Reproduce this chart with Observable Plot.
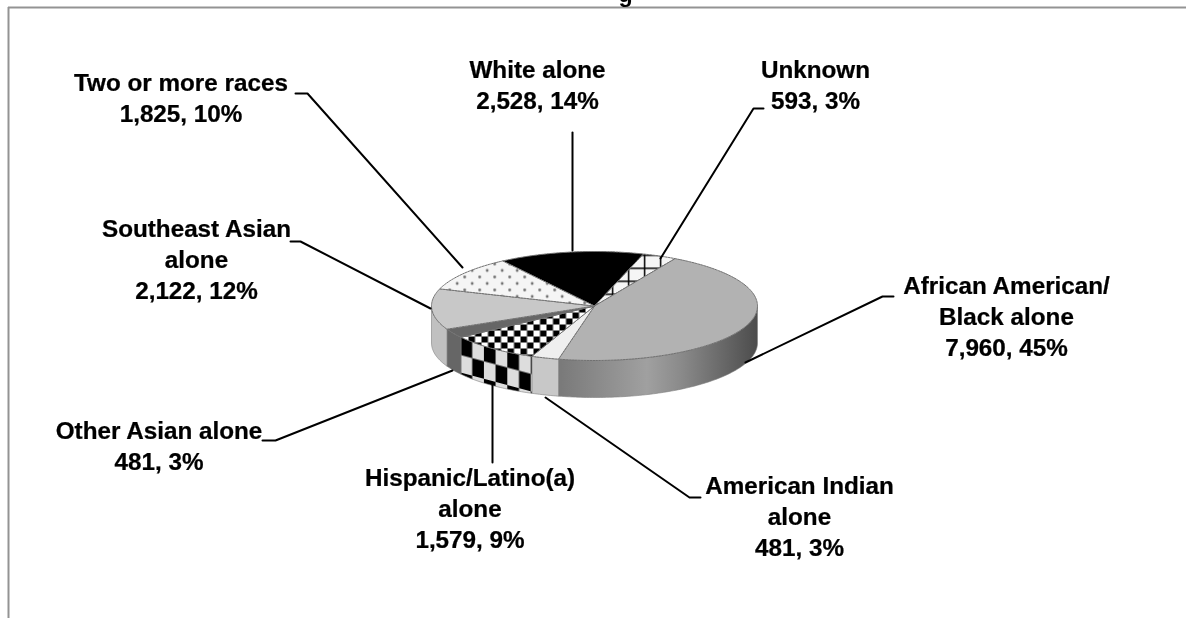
<!DOCTYPE html>
<html><head><meta charset="utf-8">
<style>html,body{margin:0;padding:0;background:#fff;overflow:hidden}svg{display:block;background:#fff;filter:blur(0.4px)}</style>
<script src="https://cdn.jsdelivr.net/npm/d3@7"></script>
<script src="https://cdn.jsdelivr.net/npm/@observablehq/plot@0.6"></script>
</head><body><div id="c"></div>
<script>
// DATA (clockwise, starting from the top-left edge of the "White alone" slice)
const categories = ["White alone","Unknown","African American/\nBlack alone","American Indian\nalone","Hispanic/Latino(a)\nalone","Other Asian alone","Southeast Asian\nalone","Two or more races"];
const counts = [2528,593,7960,481,1579,481,2122,1825];
const shares = ["14%","3%","45%","3%","9%","3%","12%","10%"];
const titleFragment = ["g"];

// LAYOUT
const W=1186,H=618;
const cx=594,cy=305.5,rx=163,ry=54.5,depth=37,startDeg=-34.3;
const topFill=["#000","url(#cross)","#b2b2b2","#efefef","url(#check)","#666","#c8c8c8","url(#dots)"];
const sideFill=["#000","#fff","url(#grad)","#c8c8c8","url(#bigcheck)","#666","#c0c0c0","#ddd"];
const labelAt=[[537,83],[815,83],[1006,314.5],[799,515],[469.5,506.5],[158.5,444.5],[196,257.5],[180.5,96]];
const leaders=[
 [[572,132],[572,250]],
 [[763,108],[753,108],[660,258]],
 [[893,296],[882,296],[745,362]],
 [[700,497],[689,497],[545,397]],
 [[492,462],[492,385]],
 [[262,440],[275,440],[452,370]],
 [[290,241],[300,241],[430,308]],
 [[295,93],[307,93],[462,267]]
];

const total=d3.sum(counts);
let acc=startDeg;
const slices=counts.map((v,i)=>{const a0=acc;acc+=v/total*360;return {i,a0,a1:acc};});
const pt=(deg,dy=0)=>{const r=deg*Math.PI/180;return {x:cx+rx*Math.sin(r),y:cy-ry*Math.cos(r)+dy};};
const arc=(a0,a1,dy=0)=>{const n=Math.max(2,Math.ceil(Math.abs(a1-a0)));return d3.range(n+1).map(k=>pt(a0+(a1-a0)*k/n,dy));};

const marks=[
 Plot.ruleY([7],{x1:8,x2:W,stroke:"#939393",strokeWidth:2}),
 Plot.ruleX([8],{y1:7,y2:H,stroke:"#939393",strokeWidth:2}),
 Plot.text(titleFragment,{x:()=>625,y:()=>-6,text:d=>d,fontSize:22,fontWeight:"bold",fontFamily:"Liberation Sans",fill:"#000",textAnchor:"middle",lineAnchor:"middle"})
];
// walls
slices.forEach(s=>{
 const a=Math.max(s.a0,90),b=Math.min(s.a1,270);
 if(b<=a)return;
 const poly=[...arc(a,b),...arc(b,a,depth)];poly.push(poly[0]);
 marks.push(Plot.line(poly,{x:"x",y:"y",fill:sideFill[s.i],stroke:"#808080",strokeWidth:0.6,curve:"linear"}));
});
// top faces
slices.forEach(s=>{
 const poly=[{x:cx,y:cy},...arc(s.a0,s.a1),{x:cx,y:cy}];
 marks.push(Plot.line(poly,{x:"x",y:"y",fill:topFill[s.i],stroke:"#707070",strokeWidth:1,strokeDasharray:"2,1",curve:"linear"}));
});
// leaders
leaders.forEach(l=>marks.push(Plot.line(l.map(p=>({x:p[0],y:p[1]})),{x:"x",y:"y",stroke:"#000",strokeWidth:2,curve:"linear"})));
// labels
const fmt=d3.format(",");
const labels=categories.map((c,i)=>({t:`${c}\n${fmt(counts[i])}, ${shares[i]}`,x:labelAt[i][0],y:labelAt[i][1]}));
marks.push(Plot.text(labels,{x:"x",y:"y",text:"t",fontSize:23,fontWeight:"bold",fontFamily:"Liberation Sans",fill:"#000",stroke:"#000",strokeWidth:0.25,lineHeight:1.35,textAnchor:"middle",lineAnchor:"middle"}));

const chart=Plot.plot({width:W,height:H,margin:0,
 x:{domain:[0,W],range:[0,W],axis:null},
 y:{domain:[0,H],range:[0,H],axis:null},
 style:{background:"#fff"},marks});
document.getElementById("c").append(chart);
// the reference's labels are horizontally stretched
d3.select(chart).selectAll("g[aria-label='text'] text").each(function(){
 const t=this.getAttribute("transform")||"";
 this.setAttribute("transform",t+" scale(1.055,1)");
});

const defs=d3.select(chart).insert("defs",":first-child");
const grad=defs.append("linearGradient").attr("id","grad").attr("gradientUnits","userSpaceOnUse")
 .attr("x1",556).attr("x2",757).attr("y1",0).attr("y2",0);
[[0,"#787878"],[0.45,"#a0a0a0"],[0.62,"#8a8a8a"],[1,"#4c4c4c"]].forEach(([o,c])=>grad.append("stop").attr("offset",o).attr("stop-color",c));
const check=defs.append("pattern").attr("id","check").attr("patternUnits","userSpaceOnUse").attr("width",13).attr("height",12);
check.append("rect").attr("width",13).attr("height",12).attr("fill","#fff");
check.append("rect").attr("width",6.5).attr("height",6).attr("fill","#000");
check.append("rect").attr("x",6.5).attr("y",6).attr("width",6.5).attr("height",6).attr("fill","#000");
const big=defs.append("pattern").attr("id","bigcheck").attr("patternUnits","userSpaceOnUse").attr("width",23.4).attr("height",35).attr("patternTransform","translate(460,337) skewY(15)");
big.append("rect").attr("width",23.4).attr("height",35).attr("fill","#ddd");
big.append("rect").attr("width",11.7).attr("height",17.5).attr("fill","#000");
big.append("rect").attr("x",11.7).attr("y",17.5).attr("width",11.7).attr("height",17.5).attr("fill","#000");
const dots=defs.append("pattern").attr("id","dots").attr("patternUnits","userSpaceOnUse").attr("width",15).attr("height",13).attr("patternTransform","translate(486.7,270)");
dots.append("rect").attr("width",15).attr("height",13).attr("fill","#f5f5f5");
[[0,0],[15,0],[0,13],[15,13],[7.5,6.5]].forEach(([x,y])=>dots.append("circle").attr("cx",x).attr("cy",y).attr("r",1.4).attr("fill","#707070"));
const cross=defs.append("pattern").attr("id","cross").attr("patternUnits","userSpaceOnUse").attr("width",16).attr("height",13).attr("patternTransform","translate(643.3,267)");
cross.append("rect").attr("width",16).attr("height",13).attr("fill","#f5f5f5");
cross.append("path").attr("d","M0 0H16M0 0V13").attr("stroke","#000").attr("stroke-width",3).attr("fill","none");
</script></body></html>
